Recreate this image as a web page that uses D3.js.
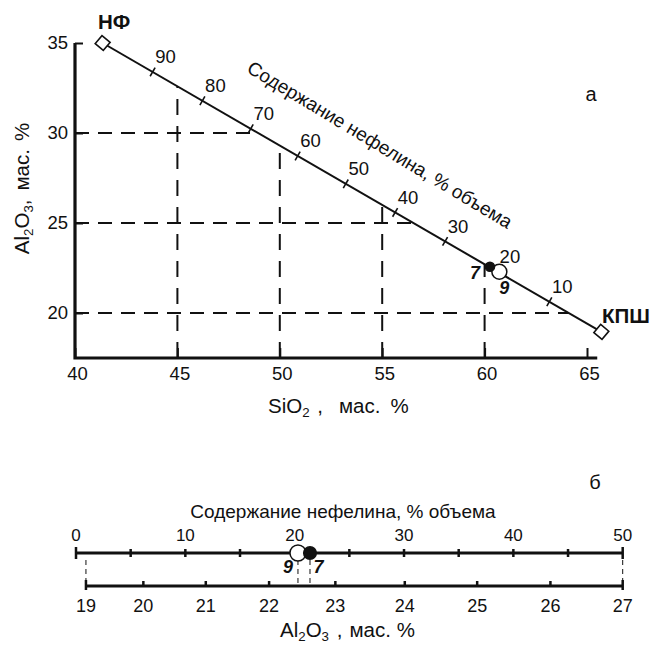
<!DOCTYPE html>
<html><head><meta charset="utf-8">
<script src="https://cdn.jsdelivr.net/npm/d3@7"></script>
<style>
body{margin:0;background:#fff;}
svg text{font-family:"Liberation Sans",Arial,Helvetica,sans-serif;fill:#111;}
</style></head><body>
<svg id="c" width="652" height="646"></svg>
<script>
// ---------------- data ----------------
const sio2Ticks = [40, 45, 50, 55, 60, 65];
const al2o3Ticks = [20, 25, 30, 35];
const guideSiO2 = [45, 50, 55, 60];
const guideAl2O3 = [30, 25, 20];
const endNames = ["НФ", "КПШ"];
const endSiO2 = [41.35, 65.7];
const endAl2O3 = [35, 18.95];
const nephTickLabels = [90, 80, 70, 60, 50, 40, 30, 20, 10];
const nephTickSiO2 = [43.79, 46.22, 48.58, 50.87, 53.22, 55.63, 58.07, 60.6, 63.16];
const sampleNames = ["7", "9"];
const sampleSiO2 = [60.26, 60.72];
const sampleAl2O3 = [22.57, 22.29];
const sampleNeph = [21.4, 20.3];
const sampleFilled = [true, false];
// bottom scale (panel б)
const nephScaleTicks = [0, 5, 10, 15, 20, 25, 30, 35, 40, 45, 50];
const nephScaleLabels = [0, 10, 20, 30, 40, 50];
const al2o3ScaleTicks = [19, 20, 21, 22, 23, 24, 25, 26, 27];
const al2o3ScaleNeph = [0.91, 6.16, 11.87, 17.66, 23.72, 30.07, 36.69, 43.39, 50.0];

// ---------------- drawing ----------------
const svg = d3.select("#c");
const INK = "#111";

// ===== panel а =====
const x = d3.scaleLinear().domain([40, 65]).range([75, 587]);
const y = d3.scaleLinear().domain([17.5, 35]).range([358, 43]);
const xMax = 65.5, yMin = 17.5;

const lineAl = s => endAl2O3[0] + (s - endSiO2[0]) * (endAl2O3[1] - endAl2O3[0]) / (endSiO2[1] - endSiO2[0]);
const lineSi = a => endSiO2[0] + (a - endAl2O3[0]) * (endSiO2[1] - endSiO2[0]) / (endAl2O3[1] - endAl2O3[0]);

const g = svg.append("g");

// dashed guides
g.selectAll(".vg").data(guideSiO2).join("line").attr("class", "vg")
  .attr("x1", d => x(d)).attr("x2", d => x(d))
  .attr("y1", y(yMin)).attr("y2", d => y(lineAl(d)))
  .attr("stroke", INK).attr("stroke-width", 2).attr("stroke-dasharray", "16,11");
g.selectAll(".hg").data(guideAl2O3).join("line").attr("class", "hg")
  .attr("x1", x(40)).attr("x2", d => x(lineSi(d)))
  .attr("y1", d => y(d)).attr("y2", d => y(d))
  .attr("stroke", INK).attr("stroke-width", 2).attr("stroke-dasharray", "14,9");

// axes
const xAxis = d3.axisBottom(x).tickValues(sio2Ticks).tickSize(-10).tickPadding(9).tickFormat(d3.format("d"));
const gx = g.append("g").attr("transform", `translate(0,${y(yMin)})`).call(xAxis);
const yAxis = d3.axisLeft(y).tickValues(al2o3Ticks).tickSize(-8).tickPadding(7).tickFormat(d3.format("d"));
const gy = g.append("g").attr("transform", `translate(${x(40)},0)`).call(yAxis);
[gx, gy].forEach(a => {
  a.select(".domain").remove();
  a.selectAll(".tick line").attr("stroke", INK).attr("stroke-width", 2);
  a.selectAll(".tick text").attr("font-size", 18.5).attr("fill", INK)
    .attr("font-family", '"Liberation Sans",Arial,sans-serif');
});
gx.selectAll(".tick text").attr("dx", 2);
g.append("path")
  .attr("d", d3.line()([[x(40), y(35)], [x(40), y(yMin)], [x(xMax), y(yMin)]]))
  .attr("fill", "none").attr("stroke", INK).attr("stroke-width", 3.2).attr("stroke-linejoin", "miter");

// mixing line
const P = endSiO2.map((s, i) => [x(s), y(endAl2O3[i])]);
g.append("line").attr("x1", P[0][0]).attr("y1", P[0][1]).attr("x2", P[1][0]).attr("y2", P[1][1])
  .attr("stroke", INK).attr("stroke-width", 2);
const ang = Math.atan2(P[1][1] - P[0][1], P[1][0] - P[0][0]);
const nx = -Math.sin(ang), ny = Math.cos(ang);

// ticks along line
const tk = nephTickSiO2.map((s, i) => ({ lab: nephTickLabels[i], px: x(s), py: y(lineAl(s)) }));
g.selectAll(".lt").data(tk).join("line").attr("class", "lt")
  .attr("x1", d => d.px - nx * 5).attr("y1", d => d.py - ny * 5)
  .attr("x2", d => d.px + nx * 5).attr("y2", d => d.py + ny * 5)
  .attr("stroke", INK).attr("stroke-width", 1.6);
g.selectAll(".ll").data(tk).join("text").attr("class", "ll")
  .attr("x", d => d.px + 13).attr("y", d => d.py - 15)
  .attr("text-anchor", "middle").attr("dy", "0.35em")
  .attr("font-size", 18.5).text(d => d.lab);

// rotated caption along the line
{
  const s0 = 53.64, off = 51;
  const cx = x(s0) - nx * off, cy = y(lineAl(s0)) - ny * off;
  g.append("text")
    .attr("transform", `translate(${cx},${cy}) rotate(${ang * 180 / Math.PI + 1})`)
    .attr("text-anchor", "middle").attr("dy", "0.35em").attr("font-size", 19)
    .text("Содержание нефелина, % объема");
}

// end members
g.selectAll(".em").data(P).join("rect").attr("class", "em")
  .attr("x", -5.3).attr("y", -5.3).attr("width", 10.6).attr("height", 10.6)
  .attr("transform", d => `translate(${d[0]},${d[1]}) rotate(40)`)
  .attr("fill", "#fff").attr("stroke", INK).attr("stroke-width", 1.6);
const emOff = [[-4.6, -14], [0.7, -9]];
g.selectAll(".eml").data(P).join("text").attr("class", "eml")
  .attr("x", (d, i) => d[0] + emOff[i][0]).attr("y", (d, i) => d[1] + emOff[i][1])
  .attr("font-size", 20.5).attr("font-weight", "bold").text((d, i) => endNames[i]);

// samples
const smp = sampleNames.map((n, i) => ({ n, px: x(sampleSiO2[i]), py: y(sampleAl2O3[i]), f: sampleFilled[i] }));
const order = smp.slice().sort((a, b) => a.f - b.f);
g.selectAll(".sp").data(order).join("circle").attr("class", "sp")
  .attr("cx", d => d.px).attr("cy", d => d.py).attr("r", d => d.f ? 4.6 : 7.5)
  .attr("fill", d => d.f ? INK : "#fff").attr("stroke", INK).attr("stroke-width", 1.5);
const smpLabOff = { "7": [-15, 6], "9": [5, 16] };
g.selectAll(".sl").data(smp).join("text").attr("class", "sl")
  .attr("x", d => d.px + smpLabOff[d.n][0]).attr("y", d => d.py + smpLabOff[d.n][1])
  .attr("text-anchor", "middle").attr("dy", "0.35em")
  .attr("font-size", 18).attr("font-weight", "bold").attr("font-style", "italic").text(d => d.n);

// axis titles
function chemTitle(sel, parts, size) {
  // parts: [text, isSub, dxBefore]
  let sub = false;
  parts.forEach(([t, s, dx]) => {
    const ts = sel.append("tspan").text(t);
    if (s) ts.attr("font-size", size * 0.65);
    const dy = s && !sub ? 4 : (!s && sub ? -4 : 0);
    if (dy) ts.attr("dy", dy);
    if (dx) ts.attr("dx", dx);
    sub = s;
  });
}
{
  const t = g.append("text").attr("x", 268).attr("y", 413).attr("font-size", 20.5);
  chemTitle(t, [["SiO", 0], ["2", 1], [" ,", 0, 2], ["мас.", 0, 16], ["%", 0, 10]], 20.5);
  const ty = g.append("text").attr("transform", `translate(29,${(y(35) + y(yMin)) / 2 - 12}) rotate(-90)`)
    .attr("text-anchor", "middle").attr("font-size", 20.5);
  chemTitle(ty, [["Al", 0], ["2", 1], ["O", 0], ["3", 1], [",", 0], ["мас.", 0, 9], ["%", 0, 8]], 20.5);
}
g.append("text").attr("x", 591).attr("y", 94).attr("dy", "0.35em").attr("text-anchor", "middle")
  .attr("font-size", 20).text("а");

// ===== panel б =====
const yTop = 553, yBot = 586;
const xN = d3.scaleLinear().domain([0, 50]).range([76, 622.7]);
const xA = d3.scaleLinear().domain(al2o3ScaleTicks).range(al2o3ScaleNeph.map(xN));
const b = svg.append("g");

b.append("text").attr("x", 595).attr("y", 482).attr("dy", "0.35em").attr("text-anchor", "middle")
  .attr("font-size", 20).text("б");
b.append("text").attr("x", 343).attr("y", 518).attr("text-anchor", "middle")
  .attr("font-size", 19).text("Содержание нефелина, % объема");

// dashed connectors
const conn = [xA(19), xA(27)].concat(sampleNeph.map(v => xN(v)));
b.selectAll(".cn").data(conn).join("line").attr("class", "cn")
  .attr("x1", d => d).attr("x2", d => d).attr("y1", yTop + 7).attr("y2", yBot - 3)
  .attr("stroke", INK).attr("stroke-width", 1).attr("stroke-dasharray", "5,4");

// top (nepheline) scale
b.append("line").attr("x1", xN(0)).attr("x2", xN(50)).attr("y1", yTop).attr("y2", yTop)
  .attr("stroke", INK).attr("stroke-width", 3);
b.selectAll(".nt").data(nephScaleTicks).join("line").attr("class", "nt")
  .attr("x1", d => xN(d)).attr("x2", d => xN(d))
  .attr("y1", d => yTop - (d === 0 || d === 50 ? 6 : 4)).attr("y2", d => yTop + (d === 0 || d === 50 ? 6 : 4))
  .attr("stroke", INK).attr("stroke-width", 2.5);
b.selectAll(".nl").data(nephScaleLabels).join("text").attr("class", "nl")
  .attr("x", d => xN(d)).attr("y", 541).attr("text-anchor", "middle").attr("font-size", 17).text(d => d);

// bottom (Al2O3) scale
b.append("line").attr("x1", xA(19)).attr("x2", xA(27)).attr("y1", yBot).attr("y2", yBot)
  .attr("stroke", INK).attr("stroke-width", 3);
b.selectAll(".at").data(al2o3ScaleTicks).join("line").attr("class", "at")
  .attr("x1", d => xA(d)).attr("x2", d => xA(d))
  .attr("y1", d => yBot - (d === 19 || d === 27 ? 6 : 5)).attr("y2", d => yBot + (d === 19 || d === 27 ? 4 : 0))
  .attr("stroke", INK).attr("stroke-width", 2.5);
b.selectAll(".al").data(al2o3ScaleTicks).join("text").attr("class", "al")
  .attr("x", d => xA(d)).attr("y", 612).attr("text-anchor", "middle").attr("font-size", 18).text(d => d);

// samples on the scale
const smpB = sampleNames.map((n, i) => ({ n, px: xN(sampleNeph[i]), f: sampleFilled[i] }));
b.selectAll(".bp").data(smpB.slice().sort((a, c) => a.f - c.f)).join("circle").attr("class", "bp")
  .attr("cx", d => d.px).attr("cy", yTop).attr("r", d => d.f ? 6.3 : 8)
  .attr("fill", d => d.f ? INK : "#fff").attr("stroke", INK).attr("stroke-width", 1.5);
const bLabOff = { "7": 8.5, "9": -10 };
b.selectAll(".bl").data(smpB).join("text").attr("class", "bl")
  .attr("x", d => d.px + bLabOff[d.n]).attr("y", 567).attr("dy", "0.35em").attr("text-anchor", "middle")
  .attr("font-size", 18).attr("font-weight", "bold").attr("font-style", "italic").text(d => d.n);

{
  const t = b.append("text").attr("x", 280).attr("y", 637).attr("font-size", 20.5);
  chemTitle(t, [["Al", 0], ["2", 1], ["O", 0], ["3", 1], [" ,", 0, 2], ["мас.", 0, 7], ["%", 0, 6]], 20.5);
}
</script>
</body></html>
